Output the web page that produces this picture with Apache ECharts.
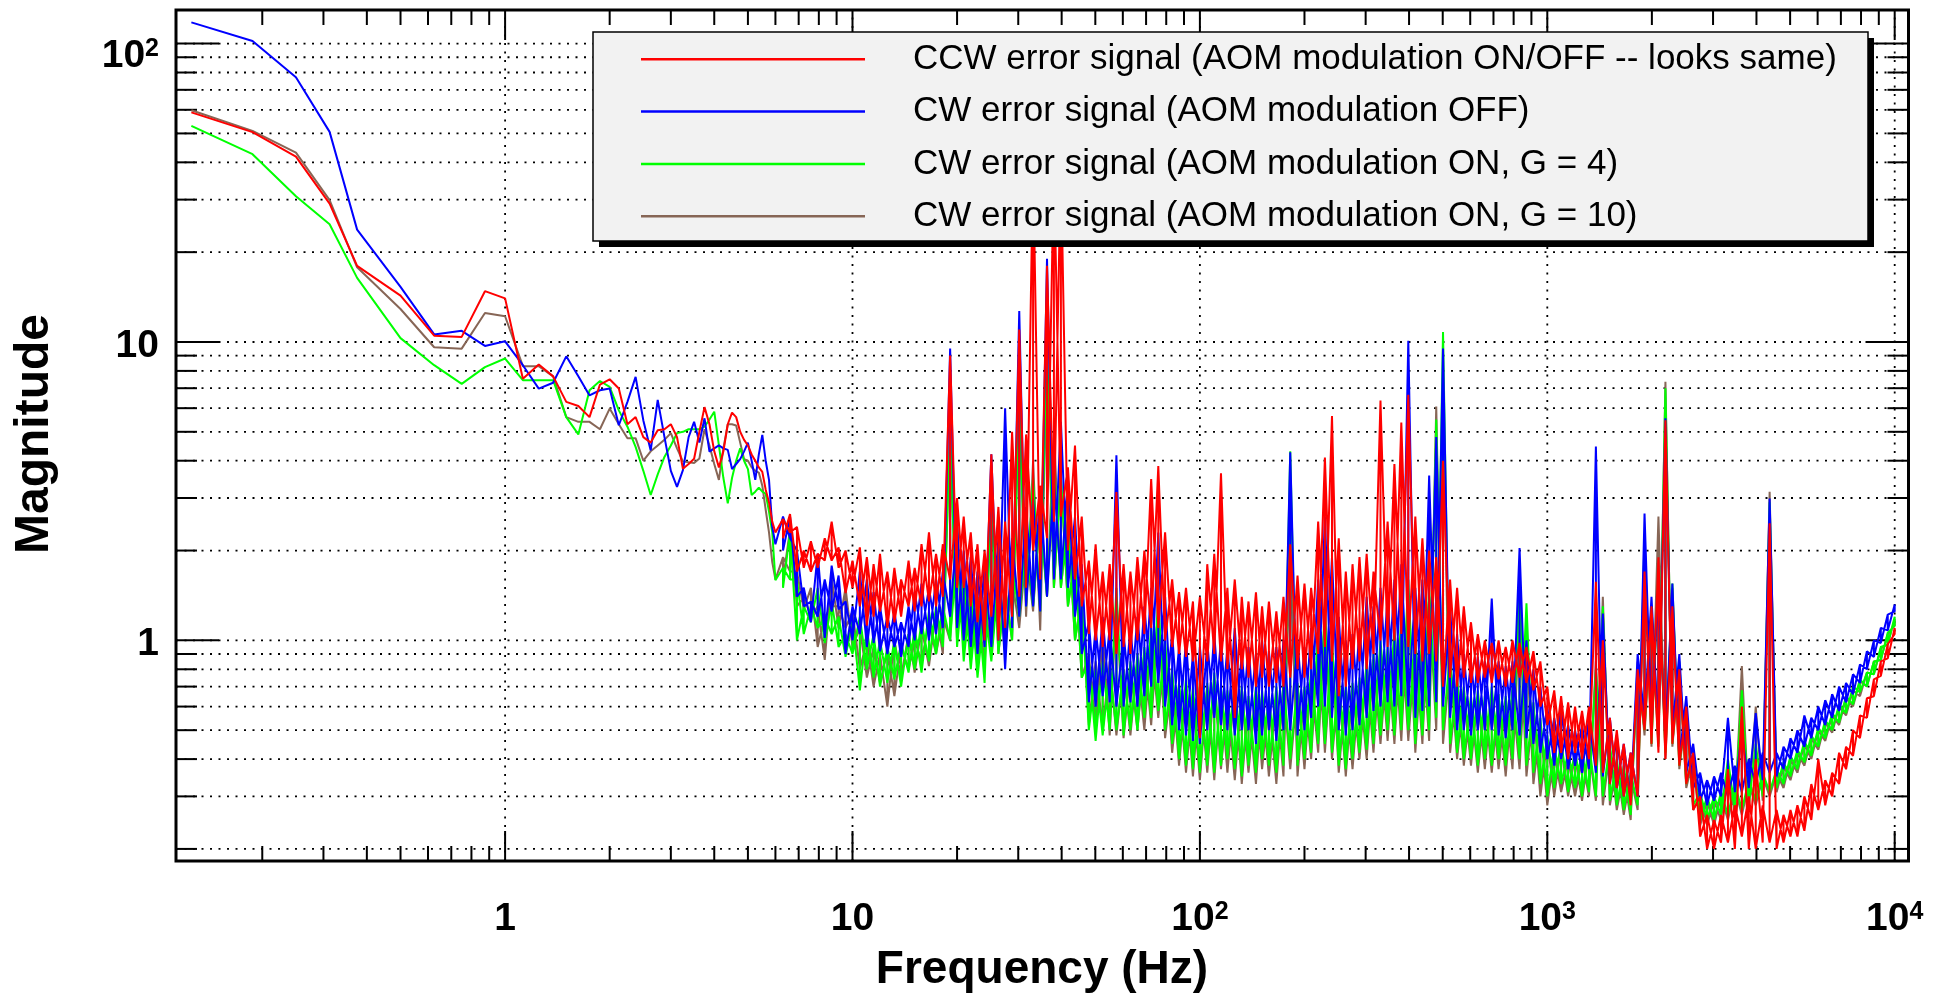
<!DOCTYPE html>
<html><head><meta charset="utf-8">
<script src="https://cdn.jsdelivr.net/npm/echarts@6/dist/echarts.min.js"></script>
<style>html,body{margin:0;padding:0;background:#fff}#c{width:1942px;height:1000px}</style>
</head><body><div id="c"></div>
<script>
const X_MIN = 0.1129, X_MAX = 10958, Y_MIN = 0.1822, Y_MAX = 129.6;

const SERIES_NAMES = [
  'CCW error signal (AOM modulation ON/OFF -- looks same)',
  'CW error signal (AOM modulation OFF)',
  'CW error signal (AOM modulation ON, G = 4)',
  'CW error signal (AOM modulation ON, G = 10)'
];
const SERIES_COLORS = ['#ff0000', '#0000ff', '#00ff00', '#876656'];

// low-frequency FFT bins (Hz)
const LF_FREQ = [0.125,0.1875,0.25,0.3125,0.375,0.5,0.625,0.75,0.875,1,1.125,1.25,1.375,1.5,1.625,1.75,1.875,2,2.125,2.25,2.375,2.5,2.625,2.75,2.875,3,3.125,3.25,3.375,3.5,3.625,3.75,3.875,4,4.125,4.25,4.375,4.5,4.625,4.75,4.875,5,5.125,5.25,5.375,5.5,5.625,5.75,5.875,6];
const RED_LF = [58.8,50.5,41.8,29.1,18.0,14.3,10.5,10.4,14.8,14.0,7.53,8.4,7.67,6.3,6.1,5.6,7.2,7.5,6.98,5.3,5.6,4.8,4.6,5.06,5.1,5.3,4.8,3.76,3.9,4.06,5.0,6.05,5.3,4.3,3.8,4.3,5.3,5.8,5.6,5.0,4.7,4.5,4.2,4.0,3.8,3.67,3.2,2.9,2.5,2.3];
const BLUE_LF = [117.8,102,77.1,50.6,23.8,15.3,10.6,10.9,9.7,10.05,8.36,6.98,7.3,8.95,7.67,6.62,6.89,6.98,5.26,6.3,7.64,5.46,4.33,6.4,4.81,3.7,3.27,3.72,4.8,5.4,4.6,5.55,4.29,4.4,4.5,4.4,4.35,3.75,3.9,4.05,4.3,4.6,4.0,3.45,4.2,4.88,4.0,3.45,2.4,2.1];
const GREEN_LF = [53.0,42.6,30.8,24.8,16.4,10.3,8.36,7.24,8.24,8.8,7.45,7.45,7.45,5.6,4.9,6.89,7.4,7.07,5.9,5.2,4.45,3.7,3.07,3.6,4.12,4.5,4.95,5.0,5.1,5.1,5.1,5.2,5.5,5.84,4.5,3.5,2.88,3.5,4.0,4.4,4.0,3.75,3.07,3.15,3.25,3.15,3.1,2.7,2.3,1.59];
const BROWN_LF = [59.8,51,43.1,29.9,17.8,12.9,9.6,9.5,12.5,12.2,8.3,8.3,7.67,5.6,5.4,5.4,5.1,5.98,5.3,4.76,4.76,4.0,4.3,4.5,4.7,4.95,4.4,3.98,3.95,3.93,4.07,5.1,4.5,3.9,3.45,4.4,5.3,5.3,5.25,4.6,4.05,4.0,3.8,3.7,3.65,3.3,2.74,2.3,1.83,1.6];

// higher frequencies: sample frequencies with the upper and lower edge of each noisy trace
const HF_FREQ = [6.31,6.61,6.92,7.24,7.59,7.94,8.32,8.71,9.12,9.55,
10,10.5,11,11.5,12,12.6,13.2,13.8,14.5,15.1,
15.8,16.6,17.4,18.2,19.1,20,20.9,21.9,22.9,24,
25.1,26.3,27.5,28.8,30.2,31.6,33.1,34.7,36.3,38,
39.8,41.7,43.7,45.7,47.9,50.1,52.5,55,57.5,60.3,
63.1,66.1,69.2,72.4,75.9,79.4,83.2,87.1,91.2,95.5,
100,105,110,115,120,126,132,138,145,151,
158,166,174,182,191,200,209,219,229,240,
251,263,275,288,302,316,331,347,363,380,
398,417,437,457,479,501,525,550,575,603,
631,661,692,724,759,794,832,871,912,955,
1000,1047,1096,1148,1202,1259,1318,1380,1445,1514,
1585,1660,1738,1820,1905,1995,2089,2188,2291,2399,
2512,2630,2754,2884,3020,3162,3311,3467,3631,3802,
3981,4169,4365,4571,4786,5012,5248,5495,5754,6026,
6310,6607,6918,7244,7586,7943,8318,8710,9120,9550,
10000];

const RED_HI = [2.55,2.65,2.4,2.0,2.15,1.95,2.2,2.5,2.05,2.0,
1.85,2.05,1.9,1.8,1.95,1.7,1.75,1.6,1.85,1.75,
2.1,2.3,1.95,2.1,9.0,3.0,2.6,2.3,2.1,2.0,
4.2,2.8,2.5,5.0,11.0,4.9,40,3.3,18,40,
40,3.8,4.5,2.6,1.85,2.1,1.7,1.8,3.14,1.8,
1.7,1.9,2.0,3.47,3.84,2.3,1.6,1.45,1.5,1.35,
1.4,1.8,1.95,3.63,1.5,1.6,1.4,1.35,1.45,1.3,
1.35,1.25,1.4,2.1,1.65,1.55,1.5,2.5,4.1,5.65,
2.2,1.7,1.8,1.9,1.95,1.7,6.36,2.5,3.9,5.37,
6.65,2.6,2.2,2.0,1.9,4.0,1.6,1.5,1.3,1.15,
1.05,1.0,0.98,1.0,0.95,1.0,0.98,0.95,0.92,0.85,
0.7,0.68,0.65,0.62,0.6,0.58,0.6,1.57,1.0,0.55,
0.5,0.45,0.42,0.8,1.7,1.3,1.9,5.47,1.3,0.8,
0.6,0.42,0.3,0.26,0.25,0.26,0.37,0.28,0.6,0.3,
0.4,0.28,2.47,0.27,0.26,0.27,0.28,0.3,0.33,0.4,
0.34,0.36,0.42,0.44,0.5,0.56,0.64,0.74,0.85,0.97,
1.1];
const RED_LO = [2.2,2.3,1.7,1.75,1.7,1.75,1.85,1.85,1.75,1.44,
1.5,1.3,1.12,1.2,1.25,1.1,1.15,1.2,1.3,1.25,
1.3,1.35,1.3,1.4,1.6,1.5,1.5,1.3,1.15,1.0,
1.2,1.0,1.1,1.2,1.4,1.5,2.0,1.6,2.2,2.5,
2.6,2.0,1.6,1.3,1.05,1.0,0.95,1.0,0.9,0.95,
0.9,1.0,1.05,1.1,1.1,1.0,0.95,0.9,0.88,0.85,
0.47,0.85,0.9,0.85,0.8,0.55,0.8,0.75,0.7,0.75,
0.7,0.72,0.7,0.75,0.8,0.75,0.8,0.9,0.95,0.85,
0.65,0.7,0.8,0.85,0.8,0.9,1.0,0.95,1.0,1.05,
0.95,0.9,0.85,0.9,0.85,0.7,0.75,0.7,0.75,0.72,
0.72,0.75,0.72,0.74,0.7,0.72,0.75,0.72,0.68,0.6,
0.52,0.42,0.42,0.4,0.42,0.4,0.4,0.38,0.36,0.33,
0.32,0.3,0.28,0.3,0.5,0.45,0.42,0.4,0.45,0.38,
0.33,0.27,0.22,0.2,0.2,0.21,0.21,0.2,0.22,0.2,
0.2,0.21,0.21,0.2,0.21,0.22,0.22,0.23,0.25,0.27,
0.28,0.3,0.33,0.37,0.41,0.47,0.55,0.65,0.76,0.87,
1.05];

const BLUE_HI = [2.6,2.6,2.0,1.5,1.35,1.95,1.6,1.78,1.65,1.35,
1.3,1.7,1.6,1.45,1.3,1.2,1.25,1.15,1.3,1.45,
1.55,1.5,1.6,1.7,9.5,2.4,2.0,1.9,1.7,1.8,
4.2,2.2,6.0,2.2,12.7,2.8,3.0,3.2,19,3.5,
5.4,3.5,2.6,1.8,1.15,1.1,1.2,1.1,4.17,1.05,
1.1,1.2,1.3,1.5,2.3,1.4,1.05,0.95,1.0,0.9,
0.95,0.98,1.05,1.0,0.95,1.1,0.9,0.95,0.9,1.0,
0.92,0.95,1.0,4.27,1.0,0.95,1.1,1.6,2.6,1.9,
1.2,1.0,1.05,1.1,1.4,1.3,1.5,1.4,1.6,1.8,
10.1,1.5,1.6,3.57,4.8,9.5,1.3,1.05,0.9,0.85,
0.88,0.85,1.38,0.85,0.82,0.85,2.04,1.0,0.8,0.7,
0.6,0.55,0.6,0.52,0.5,0.52,0.55,4.46,1.23,0.55,
0.48,0.45,0.42,0.9,2.66,1.4,1.6,5.55,1.55,0.9,
0.65,0.45,0.36,0.34,0.35,0.36,0.55,0.38,0.5,0.4,
0.57,0.42,2.99,0.42,0.44,0.47,0.5,0.56,0.55,0.6,
0.63,0.66,0.7,0.72,0.77,0.83,0.92,1.0,1.1,1.22,
1.32];
const BLUE_LO = [2.0,2.2,1.4,1.3,1.15,1.2,1.02,1.25,1.27,0.9,
1.0,1.05,0.95,0.98,0.92,0.9,0.95,0.88,0.95,1.0,
1.05,1.0,1.05,1.1,1.2,1.1,1.0,0.95,0.9,0.95,
0.95,1.0,0.8,1.1,1.2,1.3,1.3,1.25,1.4,1.6,
1.6,1.5,1.2,0.9,0.62,0.6,0.65,0.62,0.6,0.6,
0.62,0.6,0.65,0.7,0.72,0.6,0.52,0.5,0.48,0.46,
0.45,0.5,0.55,0.52,0.5,0.48,0.5,0.5,0.45,0.48,
0.5,0.46,0.5,0.5,0.48,0.5,0.55,0.6,0.6,0.55,
0.5,0.48,0.5,0.52,0.55,0.58,0.6,0.62,0.6,0.65,
0.6,0.55,0.58,0.6,0.62,0.6,0.55,0.5,0.5,0.48,
0.5,0.5,0.5,0.48,0.47,0.5,0.48,0.47,0.45,0.42,
0.4,0.38,0.4,0.37,0.38,0.36,0.37,0.36,0.35,0.33,
0.32,0.3,0.29,0.3,0.55,0.5,0.48,0.45,0.5,0.4,
0.36,0.32,0.29,0.28,0.29,0.3,0.3,0.31,0.31,0.32,
0.33,0.34,0.36,0.35,0.37,0.4,0.42,0.44,0.47,0.5,
0.52,0.55,0.58,0.62,0.66,0.72,0.8,0.88,0.98,1.08,
1.25];

const GREEN_HI = [1.75,2.3,1.6,1.3,1.3,1.5,1.2,1.35,1.2,1.05,
1.17,1.2,1.1,1.05,1.0,0.95,1.0,0.98,1.05,1.1,
1.15,1.25,1.3,1.3,5.0,2.0,1.7,1.5,1.4,1.3,
3.0,1.6,1.5,1.8,6.0,2.2,3.5,2.6,10,4.0,
3.6,2.6,1.9,1.4,0.85,0.8,0.85,0.8,1.5,0.8,
0.85,0.9,0.95,1.1,1.4,1.0,0.8,0.72,0.75,0.7,
0.72,0.72,0.78,0.7,0.68,0.72,0.7,0.65,0.7,0.68,
0.65,0.7,0.72,4.3,0.72,0.7,0.8,1.1,1.3,1.0,
0.75,0.7,0.72,0.75,0.85,0.9,1.0,0.95,1.1,1.2,
1.6,1.0,1.05,1.5,5.5,10.8,0.9,0.75,0.7,0.65,
0.68,0.65,0.7,0.66,0.65,0.7,1.68,1.33,0.62,0.55,
0.48,0.44,0.46,0.42,0.43,0.42,0.45,0.8,1.3,0.45,
0.4,0.38,0.36,0.8,2.2,1.3,1.7,6.99,1.55,0.85,
0.6,0.42,0.31,0.3,0.3,0.31,0.4,0.33,0.68,0.34,
0.45,0.36,2.9,0.37,0.39,0.41,0.43,0.46,0.48,0.51,
0.54,0.57,0.61,0.65,0.7,0.74,0.78,0.85,0.95,1.06,
1.2];
const GREEN_LO = [1.5,1.6,1.0,1.05,1.15,1.1,0.98,1.05,0.95,0.88,
0.9,0.68,0.8,0.75,0.7,0.72,0.74,0.7,0.78,0.8,
0.78,0.85,0.9,0.95,1.0,0.95,0.85,0.8,0.75,0.72,
0.85,0.9,0.9,1.0,1.2,1.3,1.3,1.25,1.4,1.5,
1.5,1.3,1.0,0.75,0.5,0.46,0.48,0.5,0.5,0.48,
0.5,0.5,0.55,0.55,0.58,0.5,0.45,0.4,0.38,0.37,
0.36,0.38,0.36,0.38,0.4,0.37,0.35,0.38,0.36,0.4,
0.38,0.36,0.38,0.4,0.38,0.4,0.42,0.45,0.45,0.42,
0.38,0.37,0.4,0.42,0.43,0.45,0.48,0.5,0.48,0.5,
0.5,0.45,0.48,0.5,0.55,0.5,0.45,0.42,0.4,0.4,
0.38,0.4,0.38,0.4,0.38,0.4,0.4,0.38,0.36,0.33,
0.3,0.32,0.33,0.31,0.32,0.3,0.31,0.3,0.3,0.29,
0.28,0.27,0.26,0.28,0.5,0.45,0.45,0.42,0.45,0.38,
0.33,0.28,0.25,0.25,0.25,0.26,0.26,0.27,0.27,0.28,
0.29,0.3,0.31,0.32,0.33,0.35,0.37,0.39,0.41,0.44,
0.47,0.5,0.53,0.57,0.61,0.67,0.7,0.77,0.86,0.97,
1.12];

const BROWN_HI = [1.9,2.35,1.7,1.4,1.5,1.3,1.2,1.62,1.3,1.5,
1.25,1.1,1.0,0.95,0.9,0.92,1.0,0.95,1.05,1.0,
1.1,1.15,1.25,1.2,5.0,2.6,1.8,1.6,1.4,1.4,
3.2,1.7,1.5,1.6,6.5,2.0,4.0,2.8,8,5,
3.5,2.5,1.9,1.4,0.9,0.85,1.05,0.85,1.3,0.8,
0.8,0.85,0.9,1.0,1.2,0.95,0.75,0.7,0.7,0.65,
0.7,0.7,0.72,0.68,0.65,0.7,0.66,0.62,0.68,0.65,
0.62,0.66,0.7,2.0,0.7,0.68,0.75,1.0,1.2,0.95,
0.72,0.68,0.7,0.72,0.8,0.85,0.95,0.9,1.0,1.1,
1.4,0.95,1.0,1.4,6.08,5.57,0.85,0.72,0.66,0.62,
0.65,0.62,0.66,0.63,0.62,0.66,1.2,1.0,0.6,0.52,
0.46,0.42,0.44,0.4,0.41,0.4,0.43,0.85,1.4,0.43,
0.38,0.36,0.35,0.85,2.0,1.25,2.6,7.36,1.5,0.82,
0.58,0.4,0.3,0.29,0.29,0.3,0.38,0.32,0.82,0.33,
0.6,0.35,3.15,0.36,0.38,0.4,0.42,0.45,0.47,0.5,
0.53,0.56,0.6,0.64,0.68,0.73,0.78,0.85,0.94,1.05,
1.18];
const BROWN_LO = [1.6,1.7,1.3,1.27,1.2,0.95,0.86,1.3,1.1,1.1,
0.95,0.8,0.75,0.7,0.72,0.6,0.65,0.75,0.8,0.78,
0.85,0.82,0.9,0.9,1.0,1.0,0.95,0.85,0.8,0.8,
0.9,0.9,0.95,1.0,1.1,1.2,1.25,1.08,1.4,1.5,
1.5,1.3,1.0,0.75,0.52,0.5,0.5,0.48,0.48,0.47,
0.48,0.5,0.5,0.52,0.55,0.47,0.42,0.38,0.36,0.35,
0.34,0.36,0.34,0.37,0.36,0.34,0.33,0.36,0.33,0.37,
0.35,0.33,0.35,0.37,0.35,0.37,0.4,0.42,0.42,0.4,
0.36,0.35,0.37,0.4,0.4,0.42,0.45,0.46,0.45,0.46,
0.46,0.42,0.45,0.46,0.5,0.45,0.42,0.4,0.38,0.38,
0.36,0.37,0.36,0.37,0.35,0.37,0.37,0.35,0.33,0.3,
0.28,0.3,0.31,0.3,0.3,0.29,0.3,0.29,0.28,0.28,
0.27,0.26,0.25,0.27,0.48,0.44,0.44,0.4,0.44,0.37,
0.32,0.27,0.24,0.24,0.24,0.25,0.25,0.26,0.26,0.27,
0.28,0.29,0.3,0.31,0.32,0.34,0.36,0.38,0.4,0.43,
0.46,0.49,0.52,0.56,0.6,0.65,0.7,0.77,0.86,0.97,
1.12];

// axis ticks
const X_TICKS = [0.2,0.3,0.4,0.5,0.6,0.7,0.8,0.9,1,2,3,4,5,6,7,8,9,10,20,30,40,50,60,70,80,90,100,200,300,400,500,600,700,800,900,1000,2000,3000,4000,5000,6000,7000,8000,9000,10000];
const Y_TICKS = [0.2,0.3,0.4,0.5,0.6,0.7,0.8,0.9,1,2,3,4,5,6,7,8,9,10,20,30,40,50,60,70,80,90,100];
const X_LABELS = [1,10,100,1000,10000];
const Y_LABELS = [1,10,100];

const FONT = '"Liberation Sans", Arial, Helvetica, sans-serif';

// trace: low-frequency bins, then the noisy band swept forward and back
function traceData(lf, hi, lo) {
  const d = [];
  for (let i = 0; i < LF_FREQ.length; i++) d.push([LF_FREQ[i], lf[i]]);
  for (let i = 0; i < HF_FREQ.length; i++) { d.push([HF_FREQ[i], hi[i]]); d.push([HF_FREQ[i], lo[i]]); }
  for (let i = HF_FREQ.length - 1; i >= 0; i--) { d.push([HF_FREQ[i], hi[i]]); d.push([HF_FREQ[i], lo[i]]); }
  return d;
}
function isDecade(v) { const l = Math.log10(v); return Math.abs(l - Math.round(l)) < 1e-6; }
const RICH = {
  b: {fontSize: 39, fontWeight: 'bold', fontFamily: FONT, lineHeight: 39, verticalAlign: 'bottom', fill: '#000'},
  s: {fontSize: 25, fontWeight: 'bold', fontFamily: FONT, lineHeight: 25, verticalAlign: 'top', padding: [0, 0, 22, 0], fill: '#000'}
};
function labelStyle(v, align) {
  const k = Math.round(Math.log10(v));
  const base = {align: align, verticalAlign: 'bottom', fill: '#000', fontFamily: FONT, fontWeight: 'bold', fontSize: 39, lineHeight: 39};
  if (k <= 1) { base.text = String(Math.round(v)); return base; }
  base.text = '{b|10}{s|' + k + '}'; base.rich = RICH; return base;
}

const DOT = {stroke: '#000', lineWidth: 1.8, lineDash: [2, 6.5]};
const TICK = {stroke: '#000', lineWidth: 2};

const traces = [
  {name: SERIES_NAMES[3], color: SERIES_COLORS[3], data: traceData(BROWN_LF, BROWN_HI, BROWN_LO)},
  {name: SERIES_NAMES[2], color: SERIES_COLORS[2], data: traceData(GREEN_LF, GREEN_HI, GREEN_LO)},
  {name: SERIES_NAMES[1], color: SERIES_COLORS[1], data: traceData(BLUE_LF, BLUE_HI, BLUE_LO)},
  {name: SERIES_NAMES[0], color: SERIES_COLORS[0], data: traceData(RED_LF, RED_HI, RED_LO)}
].map(t => ({
  type: 'line', name: t.name, data: t.data, showSymbol: false, symbol: 'none', silent: true,
  lineStyle: {color: t.color, width: 2}, itemStyle: {color: t.color}, z: 3, clip: true
}));

const chart = echarts.init(document.getElementById('c'), null, {renderer: 'canvas'});

const legendX = 593, legendY = 32, legendW = 1275, legendH = 209, rowGap = 52.3;
const legendEls = [
  {type: 'rect', z: 100, shape: {x: legendX + 6, y: legendY + 6, width: legendW, height: legendH}, style: {fill: '#000'}},
  {type: 'rect', z: 101, shape: {x: legendX, y: legendY, width: legendW, height: legendH}, style: {fill: '#f2f2f2', stroke: '#000', lineWidth: 1.5}}
];
SERIES_NAMES.forEach((n, i) => {
  const y = legendY + 27.3 + i * rowGap;
  legendEls.push({type: 'line', z: 102, shape: {x1: 641, y1: y, x2: 865, y2: y}, style: {stroke: SERIES_COLORS[i], lineWidth: 2.5}});
  legendEls.push({type: 'text', z: 102, x: 913, y: y, style: {text: n, fontFamily: FONT, fontSize: 35, fill: '#000', align: 'left', verticalAlign: 'middle'}});
});

chart.setOption({
  animation: false,
  backgroundColor: '#fff',
  grid: {left: 176, top: 10, right: 33.5, bottom: 139, show: true, borderColor: '#000', borderWidth: 3, backgroundColor: 'transparent', containLabel: false, outerBoundsMode: 'none'},
  xAxis: {type: 'log', logBase: 10, min: X_MIN, max: X_MAX, axisLine: {show: false}, axisTick: {show: false}, axisLabel: {show: false}, splitLine: {show: false}, minorTick: {show: false}},
  yAxis: {type: 'log', logBase: 10, min: Y_MIN, max: Y_MAX, axisLine: {show: false}, axisTick: {show: false}, axisLabel: {show: false}, splitLine: {show: false}, minorTick: {show: false}},
  tooltip: {show: false},
  graphic: [
    {type: 'text', x: 1042, y: 970, style: {text: 'Frequency (Hz)', fontFamily: FONT, fontWeight: 'bold', fontSize: 46, fill: '#000', align: 'center', verticalAlign: 'middle'}},
    {type: 'text', x: 35, y: 434, rotation: Math.PI / 2, style: {text: 'Magnitude', fontFamily: FONT, fontWeight: 'bold', fontSize: 48, fill: '#000', align: 'center', verticalAlign: 'middle'}},
    {type: 'group', children: legendEls}
  ],
  series: [
    {
      type: 'custom', name: 'ygrid', silent: true, clip: false, z: 1,
      data: Y_TICKS.map(v => [X_MIN, v]),
      renderItem: (params, api) => {
        const v = api.value(1);
        const a = api.coord([X_MIN, v]), b = api.coord([X_MAX, v]);
        const len = isDecade(v) ? 43 : 21;
        return {type: 'group', children: [
          {type: 'line', shape: {x1: a[0], y1: a[1], x2: b[0], y2: b[1]}, style: DOT},
          {type: 'line', shape: {x1: a[0], y1: a[1], x2: a[0] + len, y2: a[1]}, style: TICK},
          {type: 'line', shape: {x1: b[0] - len, y1: b[1], x2: b[0], y2: b[1]}, style: TICK}
        ]};
      }
    },
    {
      type: 'custom', name: 'xgrid', silent: true, clip: false, z: 1,
      data: X_TICKS.map(v => [v, Y_MIN]),
      renderItem: (params, api) => {
        const v = api.value(0);
        const a = api.coord([v, Y_MIN]), b = api.coord([v, Y_MAX]);
        const dec = isDecade(v), len = dec ? 30 : 15;
        const ch = [
          {type: 'line', shape: {x1: a[0], y1: a[1], x2: a[0], y2: a[1] - len}, style: TICK},
          {type: 'line', shape: {x1: b[0], y1: b[1], x2: b[0], y2: b[1] + len}, style: TICK}
        ];
        if (dec) ch.unshift({type: 'line', shape: {x1: a[0], y1: a[1], x2: b[0], y2: b[1]}, style: DOT});
        return {type: 'group', children: ch};
      }
    },
    {
      type: 'custom', name: 'xlabels', silent: true, clip: false, z: 1,
      data: X_LABELS.map(v => [v, Y_MIN]),
      renderItem: (params, api) => {
        const v = api.value(0);
        const a = api.coord([v, Y_MIN]);
        return {type: 'text', x: a[0], y: a[1] + 78, style: labelStyle(v, 'center')};
      }
    },
    {
      type: 'custom', name: 'ylabels', silent: true, clip: false, z: 1,
      data: Y_LABELS.map(v => [X_MIN, v]),
      renderItem: (params, api) => {
        const v = api.value(1);
        const a = api.coord([X_MIN, v]);
        const sup = Math.round(Math.log10(v)) > 1;
        return {type: 'text', x: a[0] - 17, y: a[1] + (sup ? 32 : 23.5), style: labelStyle(v, 'right')};
      }
    }
  ].concat(traces)
});
</script>
</body></html>
